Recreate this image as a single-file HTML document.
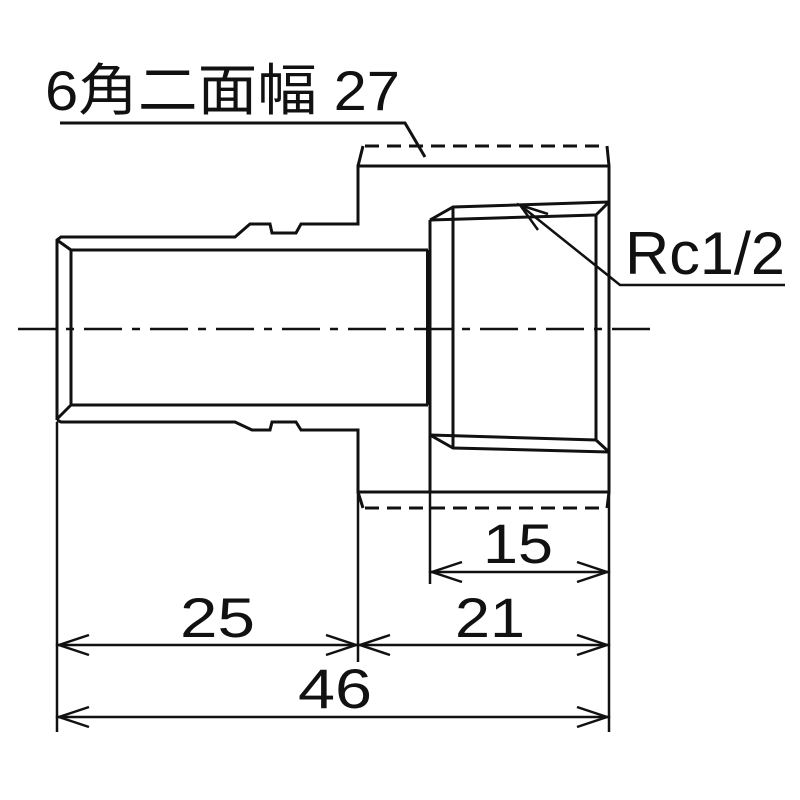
<!DOCTYPE html>
<html><head><meta charset="utf-8"><style>body{margin:0;background:#fff}svg{display:block}</style></head><body>
<svg width="800" height="800" viewBox="0 0 800 800" xmlns="http://www.w3.org/2000/svg">
<g fill="none" stroke="#111" stroke-width="3" stroke-linejoin="miter">
<polyline points="57,420 57,240 61,237 235,237 250,224 270,224 272,233 296,233 301,224 358,224 358,166 609,166 609,492 358,492 358,430 301,430 296,422 272,422 270,430 252,430 235,422 61,422 57,420"/>
<line x1="57" y1="240" x2="71" y2="250"/>
<line x1="57" y1="419" x2="71" y2="405"/>
<polyline points="71,250 428,250"/>
<polyline points="71,405 428,405"/>
<line x1="71" y1="250" x2="71" y2="405"/>
<line x1="428" y1="250" x2="428" y2="405" stroke-width="4"/>
<line x1="430" y1="220" x2="430" y2="492"/>
<line x1="453" y1="207" x2="453" y2="448"/>
<polyline points="430,220 453,207 609,202"/>
<line x1="430" y1="220" x2="596" y2="215"/>
<line x1="596" y1="215" x2="609" y2="202"/>
<line x1="596" y1="215" x2="596" y2="440"/>
<polyline points="430,435 453,448 609,452"/>
<line x1="430" y1="435" x2="596" y2="440"/>
<line x1="596" y1="440" x2="609" y2="452"/>
<line x1="358" y1="166" x2="363" y2="146"/>
<line x1="365" y1="146" x2="606" y2="146" stroke-dasharray="14,8"/>
<line x1="609" y1="166" x2="607" y2="146"/>
<line x1="358" y1="492" x2="363" y2="508"/>
<line x1="365" y1="508" x2="606" y2="508" stroke-dasharray="14,8"/>
<line x1="609" y1="492" x2="607" y2="508"/>
<line x1="18" y1="329" x2="650" y2="329" stroke-dasharray="38,10,8,10" stroke-width="2.5"/>
<polyline points="60,123 405,123 425,157"/>
<polyline points="520,205 620,285 785,285" stroke-width="2.5"/>
<polyline points="548,214 520,205 538,230" stroke-width="2.5"/>
<line x1="57" y1="422" x2="57" y2="732" stroke-width="2.5"/>
<line x1="358" y1="492" x2="358" y2="662" stroke-width="2.5"/>
<line x1="609" y1="492" x2="609" y2="732" stroke-width="2.5"/>
<line x1="430" y1="492" x2="430" y2="584" stroke-width="2.5"/>
<g stroke-width="2.5">
<line x1="430" y1="572" x2="609" y2="572"/>
<polyline points="462,562 432,572 462,582"/><polyline points="577,562 607,572 577,582"/>
<line x1="57" y1="645" x2="609" y2="645"/>
<polyline points="89,635 59,645 89,655"/><polyline points="326,635 356,645 326,655"/>
<polyline points="390,635 360,645 390,655"/><polyline points="577,635 607,645 577,655"/>
<line x1="57" y1="717" x2="609" y2="717"/>
<polyline points="89,707 59,717 89,727"/><polyline points="577,707 607,717 577,727"/>
</g>
</g>
<g fill="#111" font-family="'Liberation Sans','Noto Sans CJK JP',sans-serif">
<text x="45" y="110" font-size="56" textLength="355" lengthAdjust="spacingAndGlyphs">6角二面幅 27</text>
<text x="625" y="274" font-size="60" textLength="160" lengthAdjust="spacingAndGlyphs">Rc1/2</text>
<text x="483" y="563" font-size="56" textLength="70" lengthAdjust="spacingAndGlyphs">15</text>
<text x="180" y="637" font-size="56" textLength="75" lengthAdjust="spacingAndGlyphs">25</text>
<text x="455" y="637" font-size="56" textLength="70" lengthAdjust="spacingAndGlyphs">21</text>
<text x="298" y="708" font-size="56" textLength="74" lengthAdjust="spacingAndGlyphs">46</text>
</g>
</svg>
</body></html>
